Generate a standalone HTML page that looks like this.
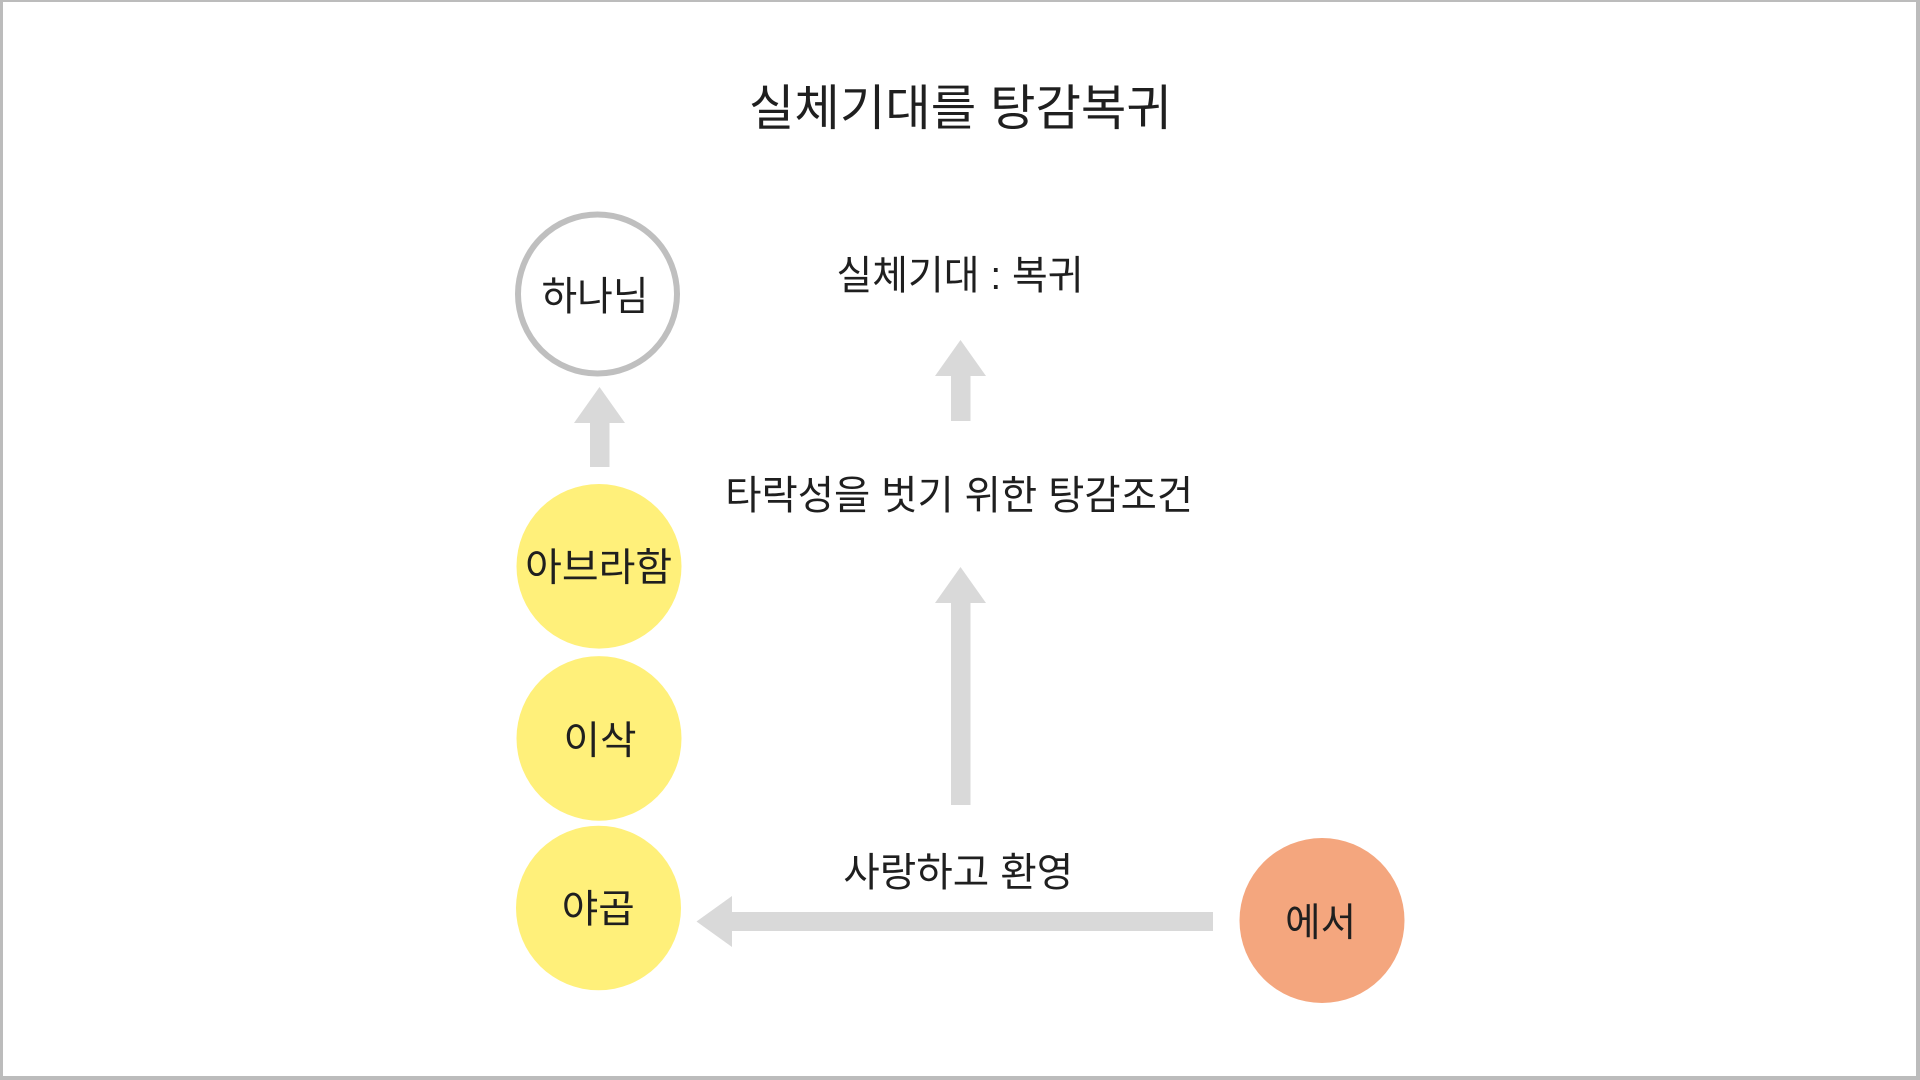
<!DOCTYPE html>
<html>
<head>
<meta charset="utf-8">
<style>
  html, body { margin: 0; padding: 0; background: #ffffff; }
  body { width: 1920px; height: 1080px; overflow: hidden; position: relative; }
  .frame {
    position: absolute; left: 0; top: 0; width: 1920px; height: 1080px;
    box-sizing: border-box;
    border-left: 3px solid #bcbcbc; border-top: 2px solid #bcbcbc;
    border-right: 4px solid #bcbcbc; border-bottom: 4px solid #bcbcbc;
  }
  svg { position: absolute; left: 0; top: 0; }
  text { font-family: "Liberation Sans", "Noto Sans CJK KR", sans-serif; fill: #1f1f1f; }
</style>
</head>
<body>
<div class="frame"></div>
<svg width="1920" height="1080" viewBox="0 0 1920 1080" xmlns="http://www.w3.org/2000/svg">
  <!-- Title -->
  <text x="960.4" y="125" font-size="49" text-anchor="middle" textLength="423" lengthAdjust="spacingAndGlyphs">실체기대를 탕감복귀</text>

  <!-- Subtitle -->
  <text x="960" y="289" font-size="40" text-anchor="middle" textLength="247" lengthAdjust="spacingAndGlyphs">실체기대 : 복귀</text>

  <!-- Middle label -->
  <text x="959.2" y="509" font-size="40" text-anchor="middle" textLength="468" lengthAdjust="spacingAndGlyphs">타락성을 벗기 위한 탕감조건</text>

  <!-- Bottom label -->
  <text x="958.3" y="886" font-size="40" text-anchor="middle" textLength="230" lengthAdjust="spacingAndGlyphs">사랑하고 환영</text>

  <!-- 하나님 circle -->
  <circle cx="597.5" cy="294" r="79.5" fill="#ffffff" stroke="#bfbfbf" stroke-width="6"/>
  <text x="595" y="310" font-size="40" text-anchor="middle" textLength="107" lengthAdjust="spacingAndGlyphs">하나님</text>

  <!-- Yellow circles -->
  <ellipse cx="599" cy="566.3" rx="82.5" ry="82.3" fill="#fff07a"/>
  <text x="598.7" y="581" font-size="39" text-anchor="middle" textLength="147" lengthAdjust="spacingAndGlyphs">아브라함</text>

  <ellipse cx="599" cy="738.4" rx="82.5" ry="82.3" fill="#fff07a"/>
  <text x="600" y="754" font-size="39" text-anchor="middle" textLength="73" lengthAdjust="spacingAndGlyphs">이삭</text>

  <ellipse cx="598.5" cy="908" rx="82.5" ry="82.3" fill="#fff07a"/>
  <text x="598.3" y="922.5" font-size="39" text-anchor="middle" textLength="73" lengthAdjust="spacingAndGlyphs">야곱</text>

  <!-- 에서 circle -->
  <ellipse cx="1322" cy="920.5" rx="82.5" ry="82.5" fill="#f4a67e"/>
  <text x="1320.6" y="936" font-size="39" text-anchor="middle" textLength="71" lengthAdjust="spacingAndGlyphs">에서</text>

  <!-- Arrows -->
  <polygon fill="#d9d9d9" points="599.5,387 625,423 609.5,423 609.5,467 590,467 590,423 574,423"/>
  <polygon fill="#d9d9d9" points="960.5,340 986,376 970.5,376 970.5,421 951,421 951,376 935,376"/>
  <polygon fill="#d9d9d9" points="960.5,567 986,603 970.5,603 970.5,805 951,805 951,603 935,603"/>
  <polygon fill="#d9d9d9" points="696.5,921.5 732,896 732,912 1213,912 1213,931 732,931 732,947"/>
</svg>
</body>
</html>
